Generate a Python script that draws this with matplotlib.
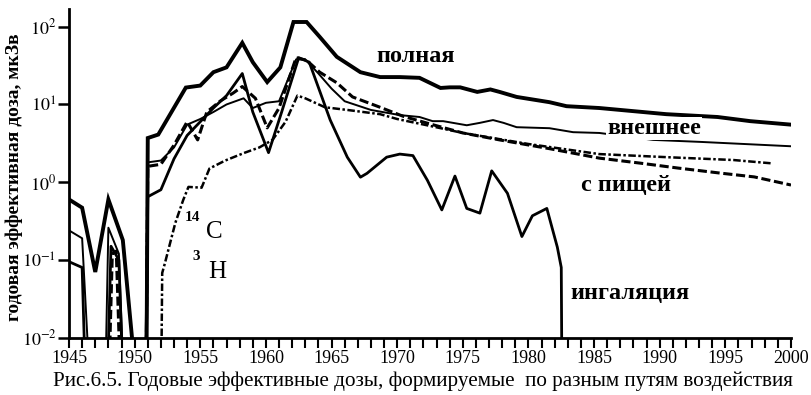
import numpy as np
import matplotlib.pyplot as plt
from matplotlib.ticker import FixedLocator, MultipleLocator

plt.rcParams['mathtext.fontset'] = 'stix'
SERIF = ['Liberation Serif', 'DejaVu Serif']

# --- annual effective doses, uSv (1e-4 = below the plotted range) ---
total_years = [1945, 1946, 1947, 1948, 1949.1, 1949.8, 1950.1, 1950.85, 1951, 1951.8,
               1953.9, 1955, 1956, 1957, 1958.2, 1959, 1960.1, 1961.1, 1962.1, 1963.1,
               1964.1, 1965.4, 1967.2, 1968.7, 1970.2, 1971.7, 1973.3, 1974, 1974.8,
               1976.1, 1977.1, 1977.8, 1979.1, 1981.6, 1982.9, 1985.4, 1990.5, 1994.4,
               1996.9, 2000]
total_dose = [0.6, 0.47, 0.07, 0.6, 0.18, 0.01, 1e-4, 1e-4, 3.7, 4.1,
              16.5, 17.5, 26, 30, 62, 35, 19.4, 30, 115, 115,
              74, 41, 26, 22.5, 22.5, 22, 16.3, 16.6, 16.6,
              14.5, 15.6, 14.5, 12.5, 10.7, 9.5, 9.0, 7.5, 6.9,
              6.1, 5.5]

ext_years = [1945, 1946, 1946.4, 1946.6, 1947.6, 1948, 1948.8, 1949.5, 1950.7, 1951,
             1952, 1953, 1954, 1955, 1956, 1957, 1958.3, 1959, 1960, 1961, 1962.3,
             1963, 1964, 1965, 1966, 1968, 1970.2, 1971.7, 1972.7, 1973.5, 1975.3,
             1976.3, 1977.3, 1978.1, 1979.1, 1981.6, 1983.4, 1985.4, 1989.5, 1993.1, 2000]
ext_dose = [0.24, 0.19, 0.01, 1e-4, 1e-4, 0.26, 0.12, 1e-4, 1e-4, 1.8,
            1.9, 2.8, 5.5, 6.5, 8, 10, 12, 9, 10.5, 11, 38,
            38, 25, 16, 11, 8.5, 7.3, 6.9, 6.1, 6.1, 5.4,
            5.8, 6.3, 5.8, 5.1, 4.95, 4.4, 4.3, 3.5, 3.3, 2.9]

food_years = [1947.8, 1948.3, 1948.6, 1949.2, 1950.8, 1951, 1952, 1953, 1954, 1954.8,
              1955.5, 1956.5, 1957.5, 1958.2, 1959.2, 1960.1, 1961, 1962.3, 1963.1,
              1964.1, 1965.4, 1966.6, 1968.7, 1970.5, 1972.7, 1975, 1977.8, 1981.6,
              1985.4, 1988.5, 1991.4, 1994.6, 1997.2, 2000]
food_dose = [1e-4, 0.12, 0.13, 1e-4, 1e-4, 1.6, 1.7, 3, 6, 3.5,
             8, 11, 14, 17, 12, 5, 9, 40, 37,
             26, 19, 12.5, 9.2, 7, 5.5, 4.3, 3.5, 2.7,
             2.04, 1.76, 1.52, 1.31, 1.17, 0.92]

inh_years = [1945, 1946, 1946.5, 1947.7, 1948.2, 1948.8, 1949.4, 1950.8, 1951, 1952,
             1953, 1954, 1955, 1956, 1957, 1958.2, 1959, 1960.2, 1961.2, 1962.5, 1963.3,
             1964.9, 1966.2, 1967.2, 1967.7, 1969.2, 1970.2, 1971.2, 1972.3, 1973.4,
             1974.4, 1975.3, 1976.3, 1977.2, 1978.4, 1979.5, 1980.3, 1981.4, 1982.2,
             1982.5, 1982.6]
inh_dose = [0.095, 0.08, 1e-4, 1e-4, 0.15, 0.1, 1e-4, 1e-4, 0.65, 0.8,
            2, 4, 6, 9, 13, 25, 8, 2.4, 8, 40, 35,
            6.3, 2.1, 1.16, 1.3, 2.1, 2.3, 2.2, 1.06, 0.44,
            1.2, 0.46, 0.4, 1.4, 0.72, 0.2, 0.37, 0.46, 0.146,
            0.08, 1e-4]

c14_years = [1951.95, 1952.1, 1952.3, 1953.1, 1953.7, 1954.1, 1955.1, 1955.7, 1956.9,
             1958.4, 1959.5, 1960.5, 1961.5, 1962.4, 1963, 1964.5, 1966.2, 1968.7,
             1970, 1972.5, 1975, 1980, 1985.4, 1990.5, 1995.6, 1998.5]
c14_dose = [1e-4, 0.068, 0.09, 0.3, 0.59, 0.87, 0.85, 1.5, 1.9,
            2.4, 2.8, 3.5, 6, 13, 12, 9.2, 8.5, 7.5,
            6.5, 5.3, 4.3, 3.1, 2.3, 2.1, 1.93, 1.75]

ylabel = 'годовая эффективная доза, мкЗв'
caption = 'Рис.6.5. Годовые эффективные дозы, формируемые  по разным путям воздействия'

fig = plt.figure(figsize=(8.12, 3.95), dpi=100)
ax = fig.add_axes([69 / 812, (395 - 337.7) / 395, 722 / 812, 328.4 / 395])

ax.plot(total_years, total_dose, color='black', lw=2.8, solid_joinstyle='miter')
ax.plot(ext_years, ext_dose, color='black', lw=1.4)
ax.plot(inh_years, inh_dose, color='black', lw=2.0)
ax.plot(food_years, food_dose, color='black', lw=2.2, linestyle=(0, (3, 1.2)))
ax.plot(c14_years, c14_dose, color='black', lw=1.8, linestyle=(0, (3, 1, 1, 1)))

ax.set_yscale('log')
ax.set_xlim(1945, 2000)
ax.set_ylim(1e-2, 10 ** 2.224)

for s in ['top', 'right']:
    ax.spines[s].set_visible(False)
for s in ['left', 'bottom']:
    ax.spines[s].set_linewidth(2)

ax.yaxis.set_major_locator(FixedLocator([1e-2, 1e-1, 1, 10, 100]))
ax.yaxis.set_minor_locator(FixedLocator([]))
ax.set_yticklabels([r'$10^{-2}$', r'$10^{-1}$', r'$10^{0}$', r'$10^{1}$', r'$10^{2}$'])
ax.xaxis.set_major_locator(MultipleLocator(5))
ax.xaxis.set_minor_locator(MultipleLocator(1))
ax.tick_params(axis='y', which='major', direction='out', length=8, width=1.8,
               labelsize=13, pad=1)
ax.tick_params(axis='x', which='major', direction='out', length=7, width=1.5,
               labelsize=13, pad=1.5)
ax.tick_params(axis='x', which='minor', direction='out', length=7, width=1.5)
for lab in ax.get_xticklabels():
    lab.set_fontfamily(SERIF)

ax.set_ylabel(ylabel, family=SERIF, fontweight='bold', fontsize=14, labelpad=2)
ax.yaxis.set_label_coords(-0.064, 0.49)

label_kw = dict(family=SERIF, fontweight='bold', fontsize=17.5, ha='left', va='center')
ax.text(1968.4, 10 ** 1.62, 'полная', **label_kw)
ax.text(1986.0, 10 ** 0.69, 'внешнее', zorder=5,
        bbox=dict(facecolor='white', edgecolor='none', pad=0.5), **label_kw)
ax.text(1984.0, 10 ** (-0.04), 'с пищей', **label_kw)
ax.text(1983.2, 10 ** (-1.43), 'ингаляция', zorder=5,
        bbox=dict(facecolor='white', edgecolor='none', pad=0.5), **label_kw)

ax.text(1953.8, 10 ** (-0.45), '14', family=SERIF, fontweight='bold', fontsize=11,
        ha='left', va='center')
ax.text(1955.4, 10 ** (-0.64), 'C', family=SERIF, fontsize=18, ha='left', va='center')
ax.text(1954.4, 10 ** (-0.95), '3', family=SERIF, fontweight='bold', fontsize=11,
        ha='left', va='center')
ax.text(1955.6, 10 ** (-1.16), 'H', family=SERIF, fontsize=18, ha='left', va='center')

fig.text(423 / 812, 1 - 381 / 395, caption, family=SERIF, fontsize=15.2,
         ha='center', va='center')

fig.savefig('out.png', dpi=100)
